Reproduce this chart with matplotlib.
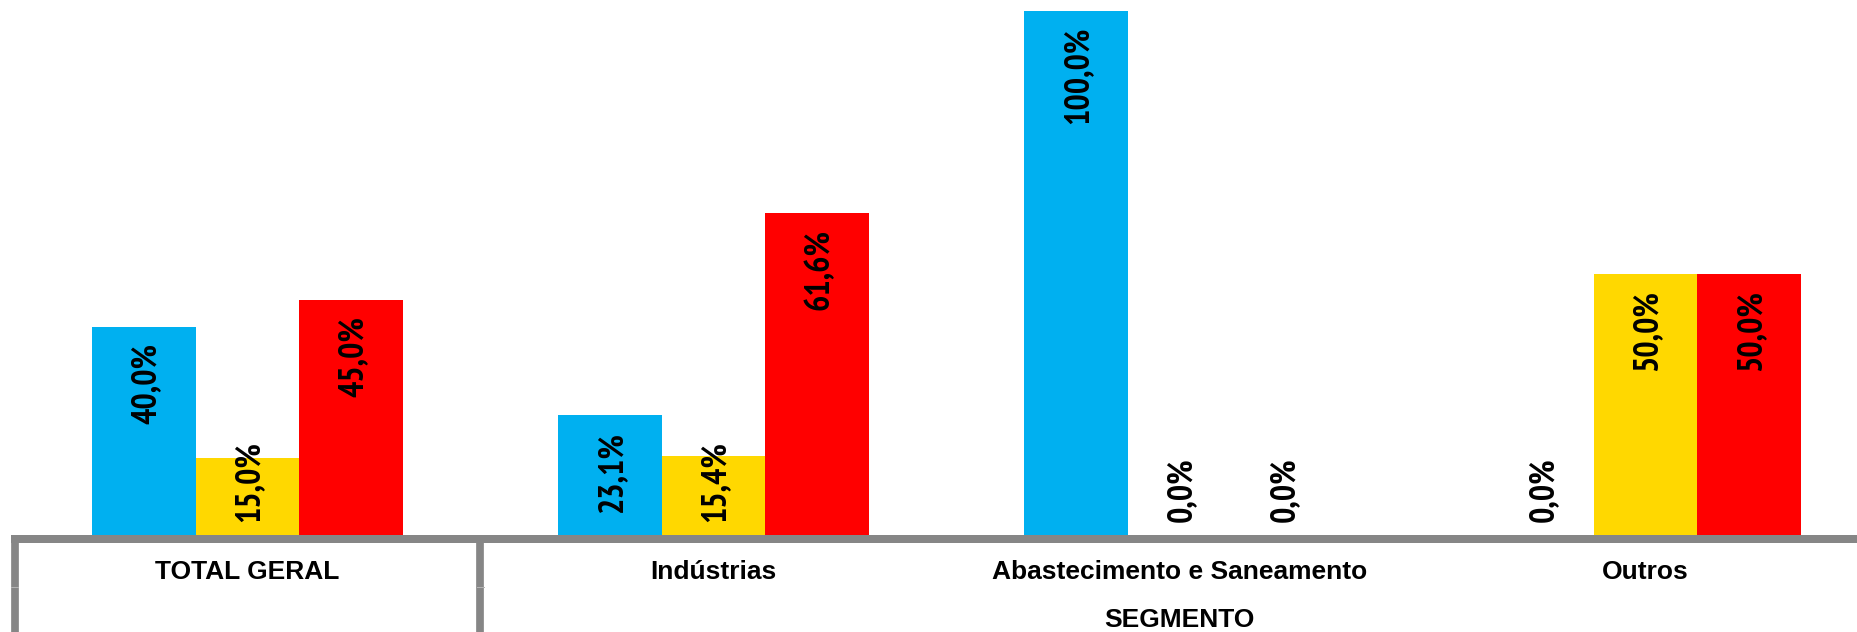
import matplotlib
matplotlib.use("Agg")
import matplotlib.pyplot as plt
from matplotlib import font_manager, transforms
from matplotlib.lines import Line2D

categories = ["TOTAL GERAL", "Indústrias", "Abastecimento e Saneamento", "Outros"]
series_blue = [40.0, 23.1, 100.0, 0.0]
series_yellow = [15.0, 15.4, 0.0, 50.0]
series_red = [45.0, 61.6, 0.0, 50.0]
group_label = "SEGMENTO"

colors = ["#00B0F0", "#FFD800", "#FF0000"]
line_gray = "#868686"

installed = {f.name for f in font_manager.fontManager.ttflist}
label_font = "PT Sans Narrow" if "PT Sans Narrow" in installed else "Liberation Sans"
plt.rcParams["font.family"] = ["Liberation Sans", "DejaVu Sans"]

W, H, DPI = 1858, 632, 100
fig = plt.figure(figsize=(W / DPI, H / DPI), dpi=DPI, facecolor="white")
# y=0 at 537 px from top, 100 at 11 px; x=-0.5 at 14.5 px, 466 px per category
px_per_unit = 526 / 100
ax = fig.add_axes([14.5 / W, (H - 539) / H, 1864 / W, 539 / H])
ax.set_xlim(-0.5, 3.5)
ax.set_ylim(-2 / px_per_unit, 100 + 11 / px_per_unit)

bar_w = 1 / 4.5
x = list(range(len(categories)))
all_series = [series_blue, series_yellow, series_red]
for i, vals in enumerate(all_series):
    ax.bar([c + (i - 1) * bar_w for c in x], vals, width=bar_w, color=colors[i],
           edgecolor="none", zorder=1)

for s in ["left", "top", "right"]:
    ax.spines[s].set_visible(False)
ax.spines["bottom"].set_color(line_gray)
ax.spines["bottom"].set_linewidth(8 * 72 / DPI)
ax.spines["bottom"].set_zorder(3)
ax.set_xticks([])
ax.set_yticks([])
ax.patch.set_visible(False)

fig.canvas.draw()
renderer = fig.canvas.get_renderer()
pt = 72 / DPI

# size the value labels so "40,0%" runs about 81 px long, as in the reference
probe = fig.text(0, 0, "40,0%", fontsize=20, fontweight="bold", family=[label_font, "DejaVu Sans"])
label_size = 20 * 81 / probe.get_window_extent(renderer).width
probe.remove()

# value labels: inside end, or near the base when the bar is too short
base_px = ax.transData.transform((0, 0))[1]
for i, vals in enumerate(all_series):
    for c, v in zip(x, vals):
        xc = c + (i - 1) * bar_w
        txt = f"{v:.1f}%".replace(".", ",")
        t = ax.annotate(txt, xy=(xc, v), xytext=(1.5, -16 * pt), textcoords="offset points",
                        rotation=90, ha="center", va="top", fontsize=label_size,
                        fontweight="bold", family=[label_font, "DejaVu Sans"], color="black", zorder=4)
        bb = t.get_window_extent(renderer)
        if bb.y0 < base_px + 15:
            t.xy = (xc, 0)
            t.xyann = (1.5, 15 * pt)
            t.set_va("bottom")

# category table under the axis
blend = transforms.blended_transform_factory(ax.transData, fig.transFigure)
for c, name in zip(x, categories):
    ax.text(c, (H - 579) / H, name, transform=blend, ha="center", va="baseline",
            fontsize=19, fontweight="bold", color="black")
ax.text(2, (H - 627) / H, group_label, transform=blend, ha="center", va="baseline",
        fontsize=19, fontweight="bold", color="black")

for xv in [-0.5, 0.5]:
    fig.add_artist(Line2D([xv, xv], [(H - 540) / H, 0], transform=blend, color=line_gray,
                          linewidth=7.7 * pt, clip_on=False, zorder=3))
    fig.add_artist(Line2D([xv - 0.008, xv + 0.008], [(H - 587) / H] * 2, transform=blend,
                          color="#b4b4b4", linewidth=1 * pt, clip_on=False, zorder=4))

fig.savefig("out.png", dpi=DPI, facecolor="white")
